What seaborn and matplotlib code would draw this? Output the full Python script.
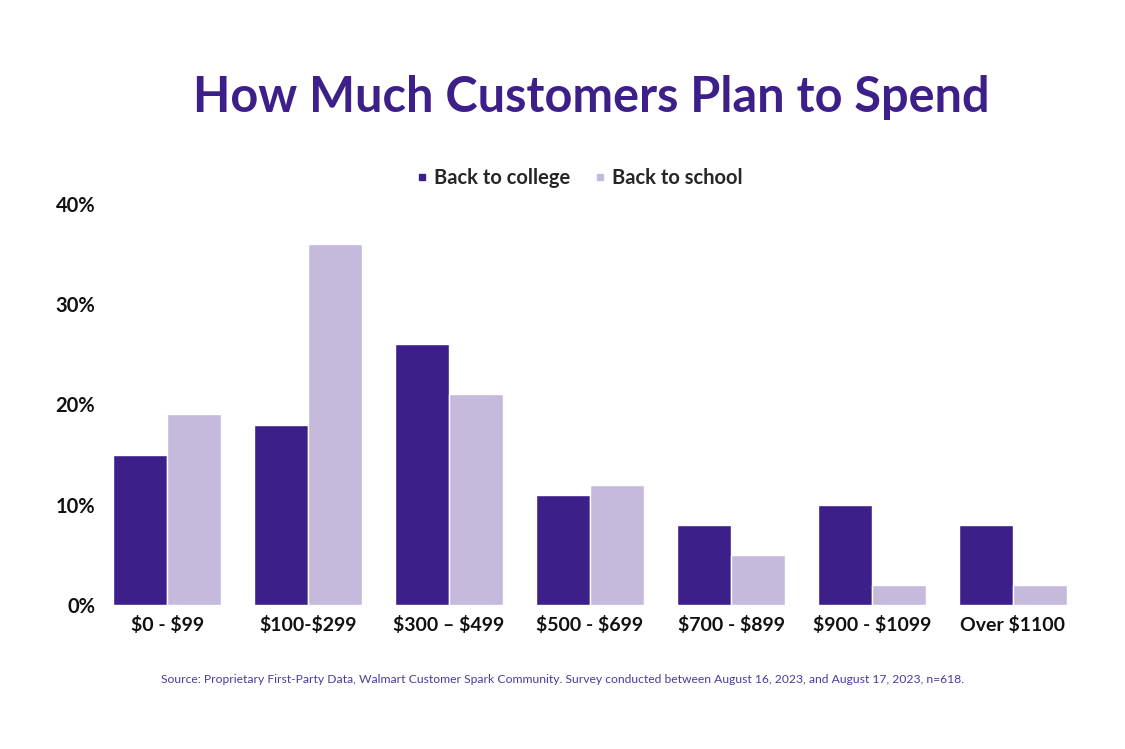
import pandas as pd
import matplotlib.pyplot as plt
import seaborn as sns

categories = ["$0 - $99", "$100-$299", "$300 – $499", "$500 - $699",
              "$700 - $899", "$900 - $1099", "Over $1100"]
college = [15, 18, 26, 11, 8, 10, 8]
school = [19, 36, 21, 12, 5, 2, 2]
series = ["Back to college", "Back to school"]
yticks = [0, 10, 20, 30, 40]

DARK = "#3D1F8A"
LIGHT = "#C5BADC"

df = pd.DataFrame({
    "range": categories * 2,
    "value": college + school,
    "group": [series[0]] * len(categories) + [series[1]] * len(categories),
})

sns.set_style("white")
plt.rcParams["font.family"] = ["Lato", "DejaVu Sans"]
plt.rcParams["text.parse_math"] = False

fig = plt.figure(figsize=(11.25, 7.49), dpi=100)
ax = fig.add_axes([0.086, 0.192, 0.877, 0.536])

sns.barplot(data=df, x="range", y="value", hue="group",
            palette=[DARK, LIGHT], saturation=1, width=0.77, edgecolor="white",
            linewidth=1, ax=ax, legend=False)

ax.set_ylim(0, 40)
ax.set_xlim(-0.5, 6.5)
ax.set_yticks(yticks)
ax.set_yticklabels([f"{t}%" for t in yticks], fontsize=14.5, fontweight="bold", color="#111111")
ax.set_xticks(range(len(categories)))
ax.set_xticklabels(categories, fontsize=14, fontweight="bold", color="#111111")
ax.tick_params(axis="both", length=0)
ax.tick_params(axis="x", pad=8)
ax.tick_params(axis="y", pad=1)
ax.set_xlabel("")
ax.set_ylabel("")
sns.despine(ax=ax, left=True, bottom=True)

fig.text(0.526, 0.87, "How Much Customers Plan to Spend", ha="center", va="center",
         fontsize=35, fontweight="bold", color=DARK)

# legend
handles = [plt.Line2D([], [], marker="s", linestyle="", color=c, markersize=4.5) for c in [DARK, LIGHT]]
fig.legend(handles, series, loc="center", bbox_to_anchor=(0.513, 0.762), ncol=2,
           frameon=False, prop={"size": 14.5, "weight": "bold"},
           handletextpad=0.1, columnspacing=1.0, handlelength=1)

fig.text(0.5, 0.093, "Source: Proprietary First-Party Data, Walmart Customer Spark Community. "
         "Survey conducted between August 16, 2023, and August 17, 2023, n=618.",
         ha="center", va="center", fontsize=8.7, color="#4B3AA0")

plt.savefig("out.png", dpi=100)
